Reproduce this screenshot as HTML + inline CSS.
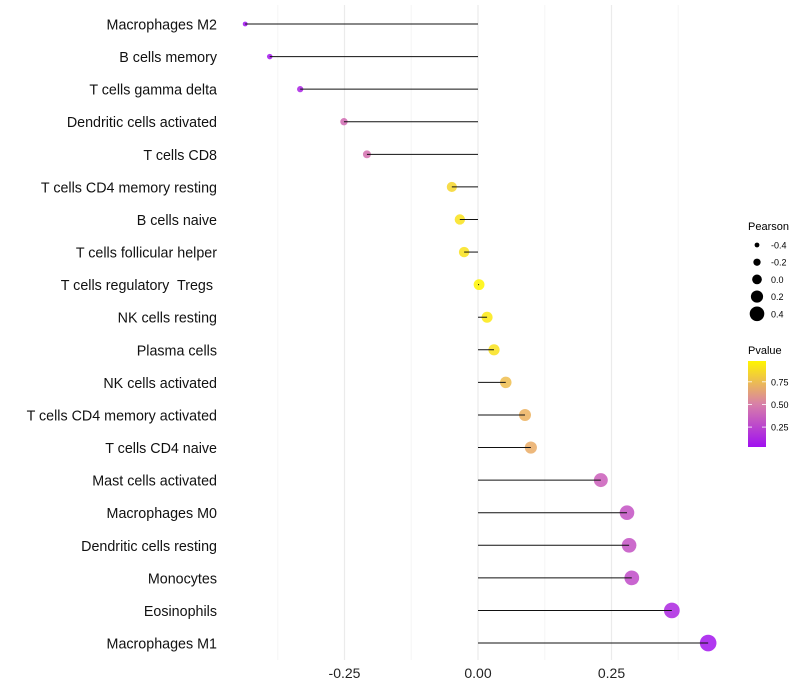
<!DOCTYPE html>
<html><head><meta charset="utf-8"><style>
body{margin:0;background:#fff;}
svg{display:block;font-family:"Liberation Sans",sans-serif;}
text{white-space:pre;}
</style></head><body>
<svg id="chart" width="800" height="700">
<defs><linearGradient id="pg" x1="0" y1="1" x2="0" y2="0">
<stop offset="0" stop-color="#A010F0"/><stop offset="0.5" stop-color="#D880A8"/><stop offset="1" stop-color="#FFF500"/></linearGradient></defs>
<g id="grid"></g><g id="marks"></g><g id="labels"></g>
<g>
<text x="748" y="230" font-size="11">Pearson</text>
<g id="sizeLegend"></g>
<text x="748" y="354" font-size="11">Pvalue</text>
<rect x="748" y="361" width="18" height="86" fill="url(#pg)"/>
<g id="cbTicks"></g>
</g>
</svg>
<script>
const categories=["Macrophages M2","B cells memory","T cells gamma delta","Dendritic cells activated","T cells CD8","T cells CD4 memory resting","B cells naive","T cells follicular helper","T cells regulatory  Tregs ","NK cells resting","Plasma cells","NK cells activated","T cells CD4 memory activated","T cells CD4 naive","Mast cells activated","Macrophages M0","Dendritic cells resting","Monocytes","Eosinophils","Macrophages M1"];
const pearson=[-0.436,-0.39,-0.333,-0.251,-0.208,-0.049,-0.034,-0.026,0.002,0.017,0.03,0.052,0.088,0.099,0.23,0.279,0.283,0.288,0.363,0.431];
const pvalue=[0.03,0.05,0.1,0.4,0.42,0.85,0.9,0.9,0.98,0.93,0.9,0.75,0.7,0.68,0.35,0.3,0.3,0.27,0.12,0.05];
const xTicks=[-0.25,0,0.25];
const xTickLabels=["-0.25","0.00","0.25"];
const sizeLegend=[-0.4,-0.2,0,0.2,0.4];
const cbTicks=[0.75,0.5,0.25];
const NS="http://www.w3.org/2000/svg";
const x=v=>478+v*534;
const y=i=>24+i*32.58;
const r=v=>5.4+6.8*v;
const pv=p=>447-(p-0.03)*(86/0.95);
function lerp(a,b,t){return a.map((c,k)=>Math.round(c+(b[k]-c)*t));}
function color(p){const t=Math.max(0,Math.min(1,(p-0.03)/0.95));const A=[160,16,240],M=[222,130,160],B=[255,245,0];const c=t<0.5?lerp(A,M,t/0.5):lerp(M,B,(t-0.5)/0.5);return `rgb(${c})`;}
function el(tag,attrs,parent,txt){const e=document.createElementNS(NS,tag);for(const k in attrs)e.setAttribute(k,attrs[k]);if(txt!==undefined)e.textContent=txt;parent.appendChild(e);return e;}
const grid=document.getElementById('grid'),marks=document.getElementById('marks'),labels=document.getElementById('labels');
[-0.375,-0.125,0.125,0.375].forEach(v=>{const l=el('line',{x1:x(v),x2:x(v),y1:5,y2:660,stroke:'#f5f5f5','stroke-width':1},grid);

});
xTicks.forEach((v,i)=>{const l=el('line',{x1:x(v),x2:x(v),y1:5,y2:660,stroke:'#ebebeb','stroke-width':1.2},grid);


const t=el('text',{x:x(v),y:678,'font-size':14,'text-anchor':'middle',fill:'#222'},labels,xTickLabels[i]);

});
categories.forEach((c,i)=>{
const t=el('text',{x:217,y:y(i)+5.5,'font-size':14.3,'text-anchor':'end',fill:'#111'},labels,c);


const d=el('circle',{cx:x(pearson[i]),cy:y(i),r:r(pearson[i]),fill:color(pvalue[i]),opacity:0.85},marks);


const s=el('line',{x1:x(0),x2:x(pearson[i]),y1:y(i),y2:y(i),stroke:'#111','stroke-width':1},marks);

});
const sl=document.getElementById('sizeLegend');
sizeLegend.forEach((v,i)=>{const yy=245+i*17.2;
const c=el('circle',{cx:757,cy:yy,r:r(v)*0.9,fill:'#000'},sl);


const t=el('text',{x:771,y:yy+3.5,'font-size':9},sl,v.toFixed(1));

});
const cb=document.getElementById('cbTicks');
cbTicks.forEach(v=>{const yy=pv(v);
const l=el('line',{x1:748,x2:752,y1:yy,y2:yy,stroke:'#fff','stroke-width':0.8},cb);


const l2=el('line',{x1:762,x2:766,y1:yy,y2:yy,stroke:'#fff','stroke-width':0.8},cb);


const t=el('text',{x:771,y:yy+3.5,'font-size':9},cb,v.toFixed(2));

});
</script>
</body></html>
